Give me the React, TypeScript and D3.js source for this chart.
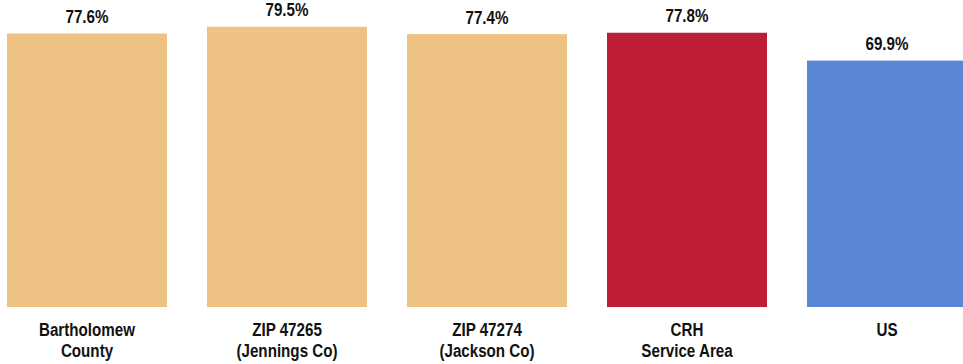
import React from "react";
import * as d3 from "d3";

const categories: string[][] = [
  ["Bartholomew", "County"],
  ["ZIP 47265", "(Jennings Co)"],
  ["ZIP 47274", "(Jackson Co)"],
  ["CRH", "Service Area"],
  ["US"],
];
const values: number[] = [77.6, 79.5, 77.4, 77.8, 69.9];
const colors: string[] = ["#EDC283", "#EDC283", "#EDC283", "#BE1D38", "#5B86D6"];

const W = 963;
const H = 364;
const FONT = "'Liberation Sans', Arial, sans-serif";
const FS = 18.5;
const SX = 0.82;

export default function App() {
  const keys = categories.map((c) => c.join(" "));
  const x = d3.scaleBand<string>().domain(keys).range([-13, 987]).paddingInner(0.2).paddingOuter(0.1);
  const y = d3.scaleLinear().domain([0, 80]).range([307, 25]);

  return (
    <svg
      width={W}
      height={H}
      style={{ position: "absolute", left: 0, top: 0, background: "#fff" }}
      fontFamily={FONT}
    >
      {keys.map((k, i) => {
        const x0 = x(k)!;
        const bw = x.bandwidth();
        const cx = x0 + bw / 2;
        return (
          <g key={k}>
            <rect x={x0} y={y(values[i])} width={bw} height={y(0) - y(values[i])} fill={colors[i]} />
            <text
              transform={`translate(${cx},${y(values[i]) - 10.5}) scale(${SX},1)`}
              textAnchor="middle"
              fontSize={FS}
              fontWeight="bold"
              fill="#111"
            >
              {values[i].toFixed(1)}%
            </text>
            {categories[i].map((line, j) => (
              <text
                key={j}
                transform={`translate(${cx},${335.5 + j * 21.5}) scale(${SX},1)`}
                textAnchor="middle"
                fontSize={FS}
                fontWeight="bold"
                fill="#111"
              >
                {line}
              </text>
            ))}
          </g>
        );
      })}
    </svg>
  );
}
